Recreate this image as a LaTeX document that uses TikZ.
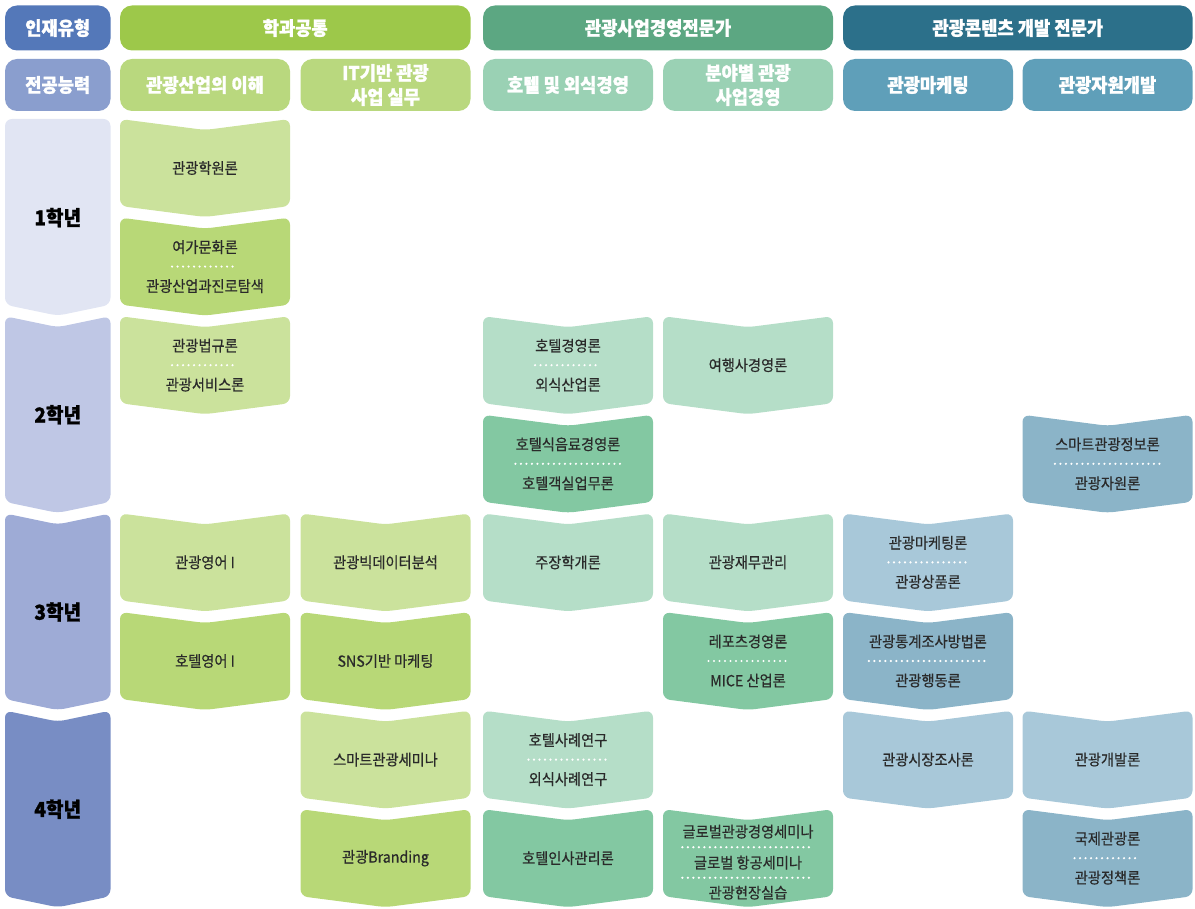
\documentclass[tikz,border=0pt]{standalone}
\usepackage{fontspec}
\setmainfont{Noto Sans CJK KR}
\newfontfamily\hfont[FakeStretch=0.93, BoldFeatures={FakeBold=1.2}]{Noto Sans CJK KR}
\newfontfamily\cfont[FakeStretch=0.93, FakeBold=0.5]{Noto Sans CJK KR}
\usetikzlibrary{calc}
\definecolor{hA}{HTML}{5478B9}
\definecolor{hB}{HTML}{8A9ECE}
\definecolor{gH}{HTML}{9DC84A}
\definecolor{gS}{HTML}{B9D87E}
\definecolor{mH}{HTML}{5CA782}
\definecolor{mS}{HTML}{9AD1B4}
\definecolor{bH}{HTML}{2C708A}
\definecolor{bS}{HTML}{5F9FB9}
\definecolor{yA}{HTML}{E1E5F3}
\definecolor{yB}{HTML}{BFC7E5}
\definecolor{yC}{HTML}{9EABD6}
\definecolor{yD}{HTML}{788DC4}
\definecolor{gL}{HTML}{CBE29C}
\definecolor{gD}{HTML}{B8D877}
\definecolor{mL}{HTML}{B5DEC8}
\definecolor{mD}{HTML}{83C8A2}
\definecolor{bL}{HTML}{A8C8D9}
\definecolor{bD}{HTML}{8BB4C8}
\definecolor{txt}{HTML}{2A2A2A}
\tikzset{
  hbox/.style={rounded corners=12pt, inner sep=0pt, text=white, align=center,
    font=\hfont\bfseries\fontsize{19}{24}\selectfont},
  ct/.style={inner sep=0pt, text=txt, font=\cfont\fontsize{15.3}{18}\selectfont},
  yt/.style={inner sep=0pt, text=black, font=\hfont\bfseries\fontsize{20.5}{24}\selectfont},
  dotsep/.style={white, line width=2.4pt, dash pattern=on 0pt off 5.5pt, line cap=round},
}
\newcommand{\Cell}[4]{%
  \pgfmathsetmacro\yT{119+98.6*#2}%
  \pgfmathsetmacro\xR{#1+170}%
  \pgfmathsetmacro\xC{#1+85}%
  \fill[#3, rounded corners=7pt] (\xC,\yT+98) -- (#1,\yT+87) -- (#1,\yT) -- (\xC,\yT+11) -- (\xR,\yT) -- (\xR,\yT+87) -- cycle;
  \coordinate (#4) at (\xC,\yT+49);
}
\newcommand{\YearBox}[4]{%
  \pgfmathsetmacro\yT{119+98.6*#1}%
  \fill[#2, rounded corners=7pt] (57.75,\yT+196.7) -- (5,\yT+185.7) -- (5,\yT) -- (57.75,\yT+#3) -- (110.5,\yT) -- (110.5,\yT+185.7) -- cycle;
  \coordinate (#4) at (57.75,\yT+98.6);
}
\newcommand{\One}[2]{\node[ct] (#1t) at (#1) {#2};}
\newcommand{\Two}[3]{%
  \node[ct] (#1a) at ($(#1)+(0,-19.5)$) {#2};
  \node[ct] (#1b) at ($(#1)+(0,19.5)$) {#3};
  \draw[dotsep] (#1a.west |- #1) -- (#1a.east |- #1);}
\begin{document}
\begin{tikzpicture}[x=1pt,y=-1pt]
\useasboundingbox (0,0) rectangle (1195,909);
% header row 1
\node[hbox, fill=hA, minimum width=105.5pt, minimum height=45pt] (h1) at (57.75,28) {인재유형};
\node[hbox, fill=gH, minimum width=350.5pt, minimum height=45pt] (h2) at (295.25,28) {학과공통};
\node[hbox, fill=mH, minimum width=350pt, minimum height=45pt] (h3) at (658,28) {관광사업경영전문가};
\node[hbox, fill=bH, minimum width=349.5pt, minimum height=45pt] (h4) at (1017.75,28) {관광콘텐츠 개발 전문가};
% header row 2
\node[hbox, fill=hB, minimum width=105.5pt, minimum height=52pt] (s0) at (57.75,85) {전공능력};
\node[hbox, fill=gS, minimum width=170pt, minimum height=52pt] (s1) at (205,85) {관광산업의 이해};
\node[hbox, fill=gS, minimum width=170pt, minimum height=52pt] (s2) at (385.5,85) {IT기반 관광\\사업 실무};
\node[hbox, fill=mS, minimum width=170pt, minimum height=52pt] (s3) at (568,85) {호텔 및 외식경영};
\node[hbox, fill=mS, minimum width=170pt, minimum height=52pt] (s4) at (748,85) {분야별 관광\\사업경영};
\node[hbox, fill=bS, minimum width=170pt, minimum height=52pt] (s5) at (928,85) {관광마케팅};
\node[hbox, fill=bS, minimum width=170pt, minimum height=52pt] (s6) at (1107.5,85) {관광자원개발};
% years
\YearBox{0}{yA}{0}{ya}
\YearBox{2}{yB}{11}{yb}
\YearBox{4}{yC}{11}{yc}
\YearBox{6}{yD}{11}{yd}
\node[yt] (yat) at (ya) {1학년};
\node[yt] (ybt) at (yb) {2학년};
\node[yt] (yct) at (yc) {3학년};
\node[yt] (ydt) at (yd) {4학년};
% column 1
\Cell{120}{0}{gL}{aa}\One{aa}{관광학원론}
\Cell{120}{1}{gD}{ab}\Two{ab}{여가문화론}{관광산업과진로탐색}
\Cell{120}{2}{gL}{ac}\Two{ac}{관광법규론}{관광서비스론}
\Cell{120}{4}{gL}{ae}\One{ae}{관광영어 I}
\Cell{120}{5}{gD}{af}\One{af}{호텔영어 I}
% column 2
\Cell{300.5}{4}{gL}{be}\One{be}{관광빅데이터분석}
\Cell{300.5}{5}{gD}{bf}\One{bf}{SNS기반 마케팅}
\Cell{300.5}{6}{gL}{bg}\One{bg}{스마트관광세미나}
\Cell{300.5}{7}{gD}{bh}\One{bh}{관광Branding}
% column 3
\Cell{483}{2}{mL}{cc}\Two{cc}{호텔경영론}{외식산업론}
\Cell{483}{3}{mD}{cd}\Two{cd}{호텔식음료경영론}{호텔객실업무론}
\Cell{483}{4}{mL}{ce}\One{ce}{주장학개론}
\Cell{483}{6}{mL}{cg}\Two{cg}{호텔사례연구}{외식사례연구}
\Cell{483}{7}{mD}{ch}\One{ch}{호텔인사관리론}
% column 4
\Cell{663}{2}{mL}{dc}\One{dc}{여행사경영론}
\Cell{663}{4}{mL}{de}\One{de}{관광재무관리}
\Cell{663}{5}{mD}{df}\Two{df}{레포츠경영론}{MICE 산업론}
\Cell{663}{7}{mD}{dh}
\node[ct] (dha) at ($(dh)+(0,-26.5)$) {글로벌관광경영세미나};
\node[ct] (dhb) at ($(dh)+(0,4.5)$) {글로벌 항공세미나};
\node[ct] (dhc) at ($(dh)+(0,34.5)$) {관광현장실습};
\coordinate (dhd1) at ($(dh)+(0,-11)$);
\coordinate (dhd2) at ($(dh)+(0,19.5)$);
\draw[dotsep] (dha.west |- dhd1) -- (dha.east |- dhd1);
\draw[dotsep] (dha.west |- dhd2) -- (dha.east |- dhd2);
% column 5
\Cell{843}{4}{bL}{ee}\Two{ee}{관광마케팅론}{관광상품론}
\Cell{843}{5}{bD}{ef}\Two{ef}{관광통계조사방법론}{관광행동론}
\Cell{843}{6}{bL}{eg}\One{eg}{관광시장조사론}
% column 6
\Cell{1022.5}{3}{bD}{fd}\Two{fd}{스마트관광정보론}{관광자원론}
\Cell{1022.5}{6}{bL}{fg}\One{fg}{관광개발론}
\Cell{1022.5}{7}{bD}{fh}\Two{fh}{국제관광론}{관광정책론}
\end{tikzpicture}
\end{document}
